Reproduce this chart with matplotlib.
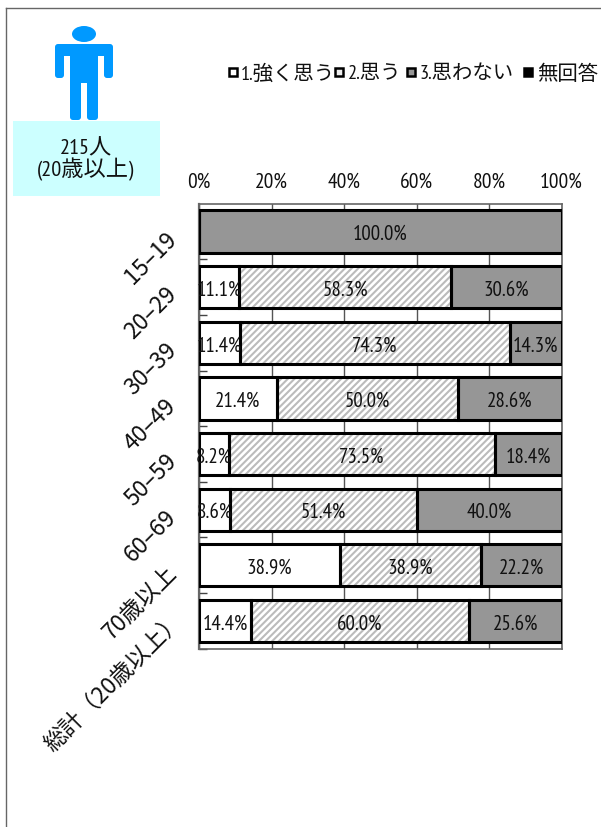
import matplotlib
matplotlib.use("Agg")
import matplotlib.pyplot as plt
from matplotlib.patches import Rectangle, Ellipse, FancyBboxPatch
from matplotlib.lines import Line2D
from matplotlib.transforms import Affine2D
import numpy as np

categories = ["15–19", "20–29", "30–39", "40–49", "50–59", "60–69", "70歳以上", "総計（20歳以上）"]
strong = [0, 11.1, 11.4, 21.4, 8.2, 8.6, 38.9, 14.4]
agree = [0, 58.3, 74.3, 50.0, 73.5, 51.4, 38.9, 60.0]
disagree = [100.0, 30.6, 14.3, 28.6, 18.4, 40.0, 22.2, 25.6]
x_ticks = [0, 20, 40, 60, 80, 100]
x_tick_labels = ["0%", "20%", "40%", "60%", "80%", "100%"]
legend_labels = ["1.強く思う", "2.思う", "3.思わない", "無回答"]
count_label = "215人\n(20歳以上)"

NARROW = ["PT Sans Narrow", "Noto Sans CJK JP", "DejaVu Sans"]
CJK = ["Noto Sans CJK JP", "DejaVu Sans"]
plt.rcParams["hatch.linewidth"] = 1.5
W, H = 601, 828
fig = plt.figure(figsize=(W / 100, H / 100), dpi=100, facecolor="white")
px = Affine2D().scale(1 / W, -1 / H).translate(0, 1) + fig.transFigure

# outer frame
for xs, ys in (([6, 6], [9, 828]), ([6, 601], [9, 9])):
    fig.add_artist(Line2D(xs, ys, transform=px, color="#666666", lw=1.0))

# person icon and count box
BLUE = "#0099FF"
fig.add_artist(Rectangle((13, 122), 147, 75, transform=px, fc="#CCFFFF", ec="none"))
fig.add_artist(Ellipse((84, 35), 24, 16, transform=px, fc=BLUE, ec="none"))
for x0, y0, w, h in [(55, 45, 58, 12), (55, 48, 9, 31), (104, 48, 9, 31),
                     (70, 48, 28, 36), (70, 60, 11, 61), (87, 60, 11, 61)]:
    fig.add_artist(FancyBboxPatch((x0 + 3, y0 + 3), w - 6, h - 6, boxstyle="round,pad=3",
                                  transform=px, fc=BLUE, ec="none"))
fig.text(86, 160, count_label, transform=px, ha="center", va="center",
         family=NARROW, fontsize=16, linespacing=1.0, color="#111111")

# legend
y_leg = 73
for (mx, tx), label, fc in zip([(233, 241), (338.5, 348), (410.5, 420), (527.5, 537)], legend_labels,
                               ["white", "#EEEEEE", "#969696", "black"]):
    fig.add_artist(Rectangle((mx - 4, y_leg - 4), 8, 8, transform=px, fc=fc, ec="black", lw=1.8))
    fig.text(tx, y_leg + 1.5, label, transform=px, ha="left", va="center", family=NARROW,
             fontsize=14.7, color="#111111")

# chart
left, right, top, bottom = 199, 561.5, 204.7, 649.7
ax = fig.add_axes([left / W, 1 - bottom / H, (right - left) / W, (bottom - top) / H])
y = np.arange(len(categories))
s, a, d = map(np.array, (strong, agree, disagree))
BAR_H = 0.76
ax.barh(y, s, BAR_H, color="white", zorder=2)
ax.barh(y, a, BAR_H, left=s, facecolor="white", edgecolor="#BBBBBB", hatch="/////", lw=0, zorder=2)
ax.barh(y, d, BAR_H, left=s + a, color="#969696", zorder=2)
ax.barh(y, s, BAR_H, fill=False, edgecolor="black", lw=2.2, zorder=3)
ax.barh(y, a, BAR_H, left=s, fill=False, edgecolor="black", lw=2.2, zorder=3)
ax.barh(y, d, BAR_H, left=s + a, fill=False, edgecolor="black", lw=2.2, zorder=3)

for i in y:
    lefts = [0, s[i], s[i] + a[i]]
    for l, v in zip(lefts, (s[i], a[i], d[i])):
        if v > 0:
            ax.annotate(f"{v:.1f}%", xy=(l + v / 2, i), xytext=(0, -2), textcoords="offset pixels",
                        ha="center", va="center", family=NARROW,
                        fontsize=15, color="#111111", zorder=4, annotation_clip=False)

ax.set_xlim(0, 100)
ax.set_ylim(len(categories) - 0.5, -0.5)
ax.xaxis.tick_top()
ax.set_xticks(x_ticks)
ax.set_xticklabels(x_tick_labels, family=NARROW, fontsize=15.5, color="#111111")
ax.tick_params(axis="x", length=0, pad=9)
ax.grid(axis="x", color="#555555", lw=1.0, zorder=1)
ax.set_axisbelow(True)
ax.set_yticks(y + 0.5, minor=False)
ax.set_yticklabels([])
ax.tick_params(axis="y", direction="in", length=6, width=1.0, color="#444444")
for name, sp in ax.spines.items():
    sp.set_color("#666666")
    sp.set_linewidth(1.2)
ax.spines["left"].set_linewidth(1.6)

for i, cat in enumerate(categories):
    dx, dy = (-20, 5) if cat.endswith("）") else (-26, -3)
    ax.annotate(cat, xy=(0, i), xycoords=("axes fraction", "data"), xytext=(dx, dy), textcoords="offset pixels",
                rotation=45, rotation_mode="anchor", ha="right", va="center",
                family=CJK, fontsize=16.5, color="#111111")

fig.savefig("out.png", dpi=100)
